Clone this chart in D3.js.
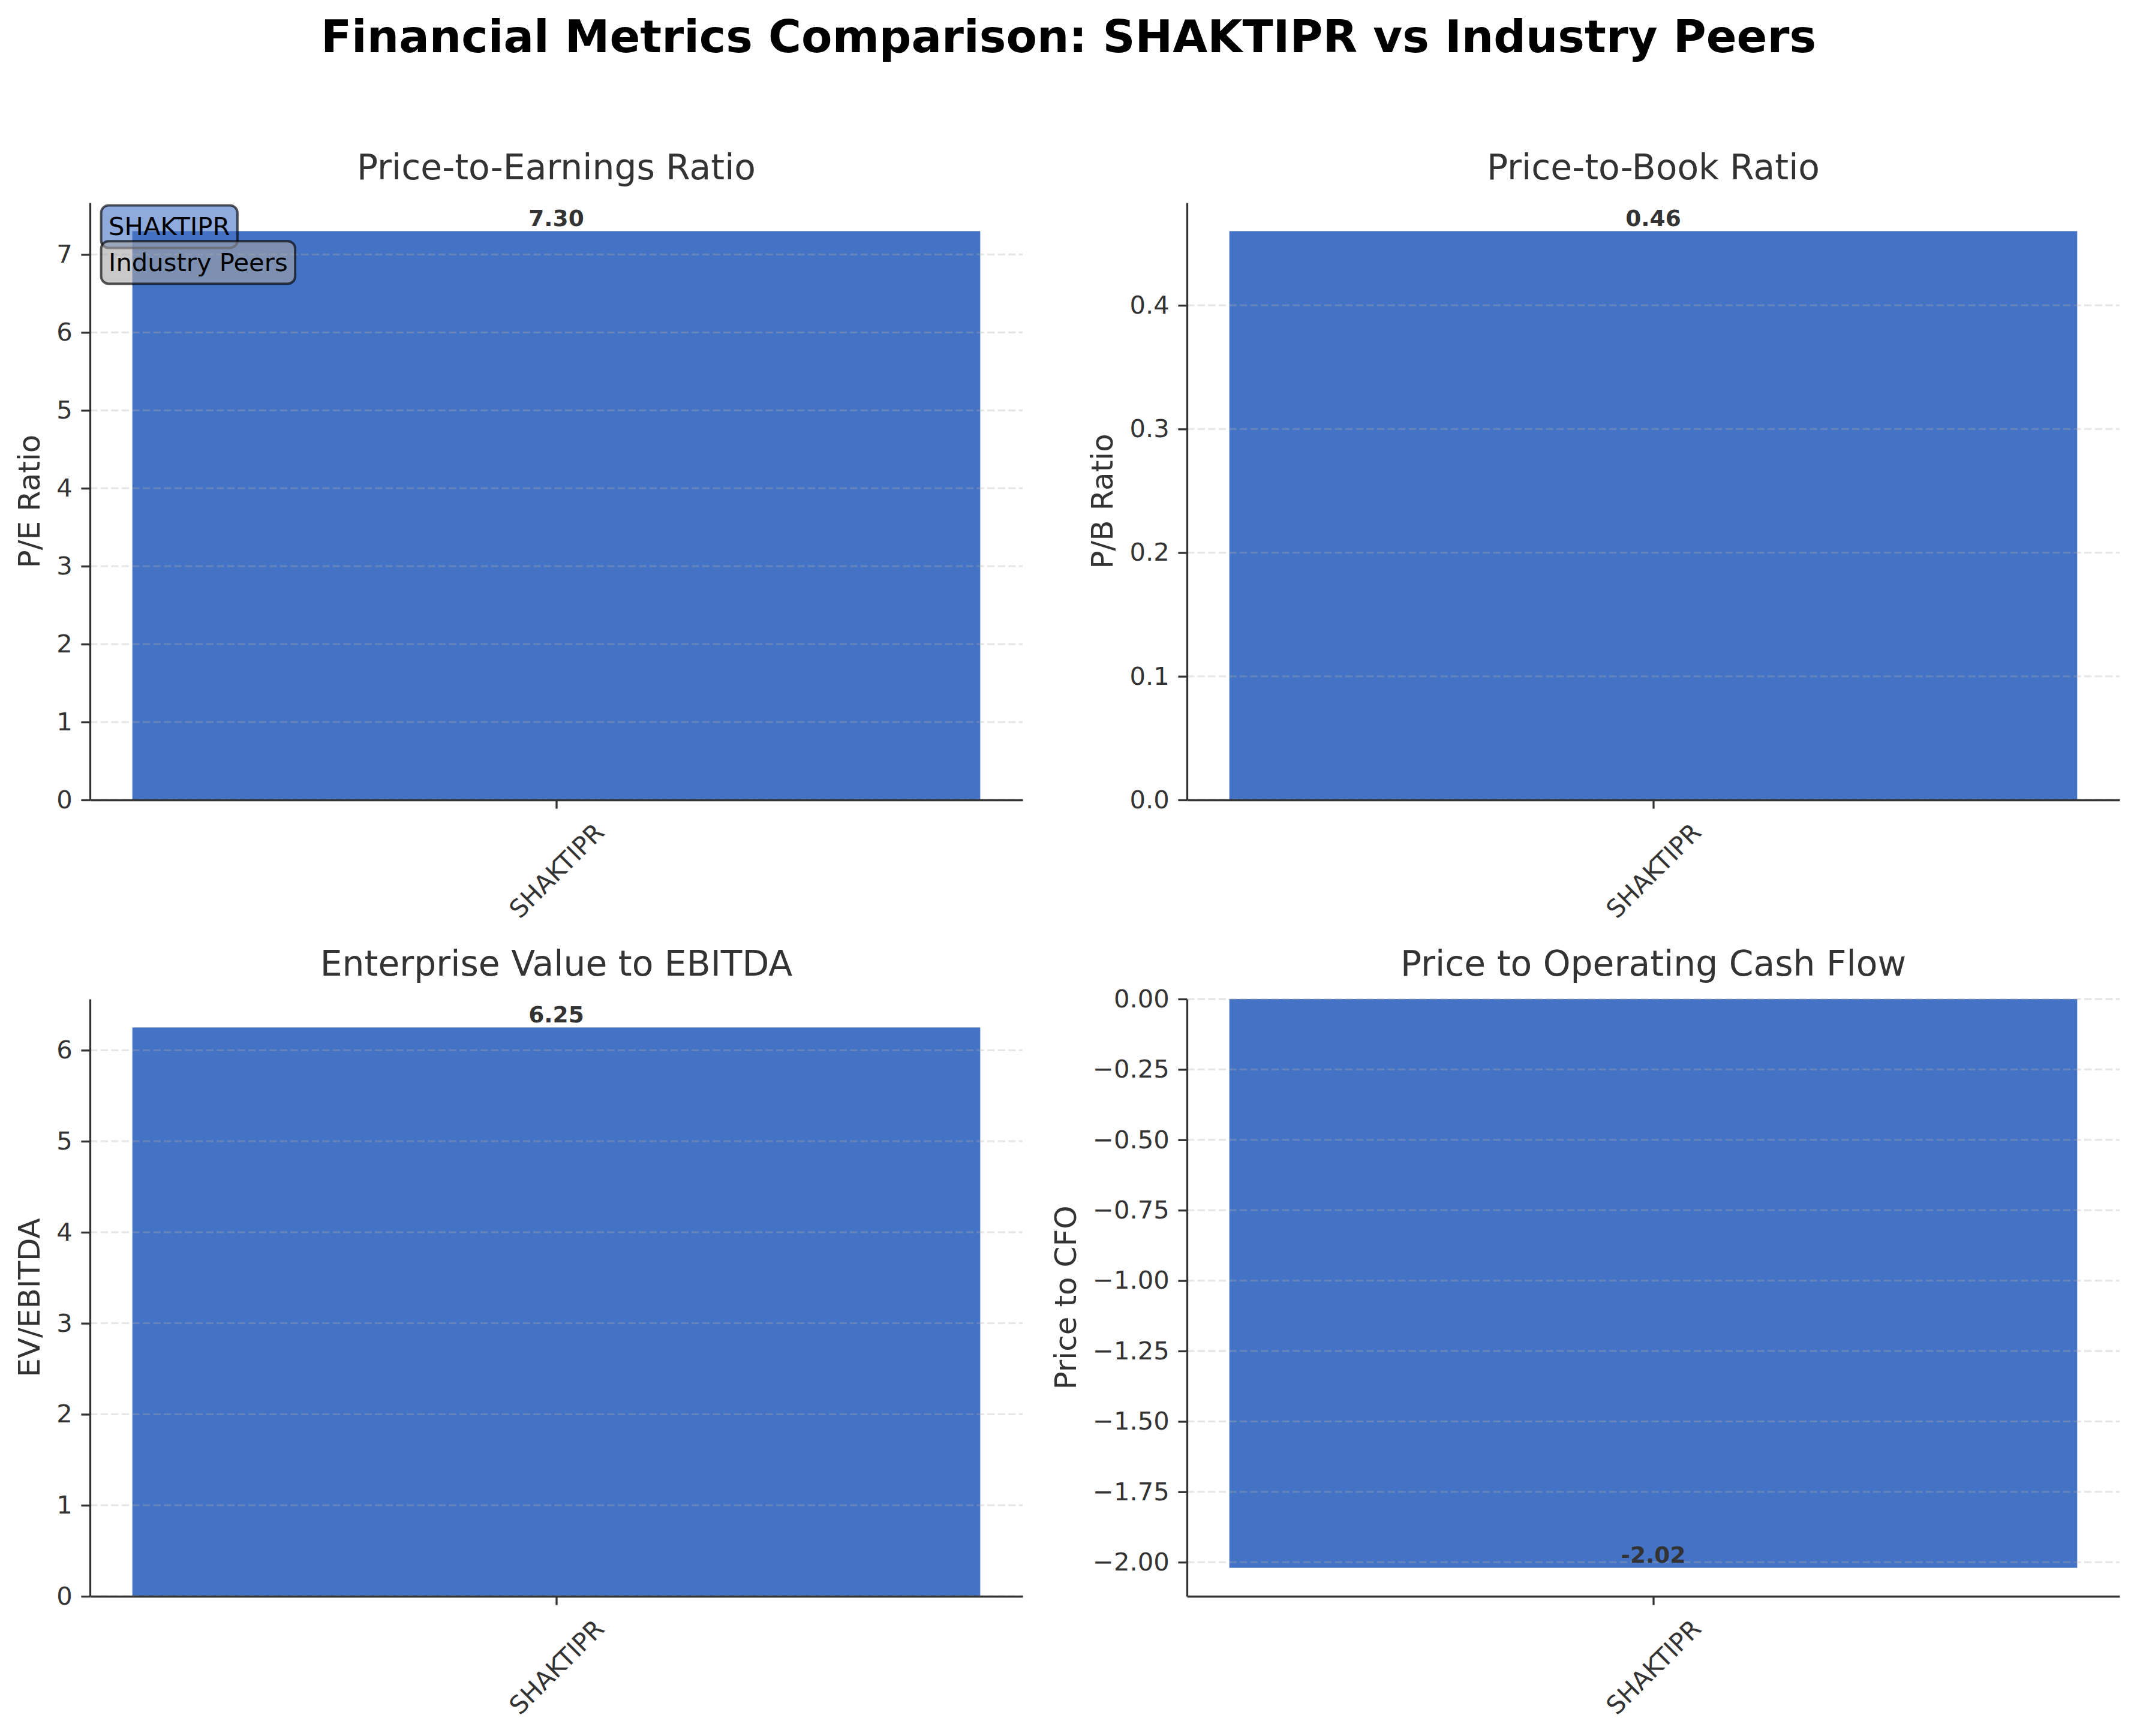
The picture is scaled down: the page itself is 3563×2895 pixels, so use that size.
<!DOCTYPE html>
<html>
<head>
<meta charset="utf-8">
<script src="https://cdn.jsdelivr.net/npm/d3@7"></script>
<style>
body { margin: 0; background: #fff; }
text { font-family: "DejaVu Sans", sans-serif; }
</style>
</head>
<body>
<div id="chart"></div>
<script>
// data
const companies = ["SHAKTIPR"];
const peValues = [7.30];
const pbValues = [0.46];
const evEbitdaValues = [6.25];
const pcfoValues = [-2.02];

const panelTitles = ["Price-to-Earnings Ratio", "Price-to-Book Ratio", "Enterprise Value to EBITDA", "Price to Operating Cash Flow"];
const yLabels = ["P/E Ratio", "P/B Ratio", "EV/EBITDA", "Price to CFO"];
const peTicks = [0, 1, 2, 3, 4, 5, 6, 7];
const pbTicks = [0, 0.1, 0.2, 0.3, 0.4];
const evTicks = [0, 1, 2, 3, 4, 5, 6];
const pcfoTicks = [0, -0.25, -0.5, -0.75, -1, -1.25, -1.5, -1.75, -2];
const tickFormats = ["d", ".1f", "d", ".2f"];
const legendLabels = ["SHAKTIPR", "Industry Peers"];
const legendColors = ["#4472C4", "#A5A5A5"];

const width = 3563, height = 2895;
const barColor = "#4472C4";
const textColor = "#333333";
const lw = 3.3;          // 0.8pt at 300dpi
const tickLen = 14.6, tickPad = 14.6;
const tickFont = 41.7, titleFont = 58.3, labelFont = 50, valueFont = 37.5;

const panels = [
    {left: 150, top: 338, values: peValues, ticks: peTicks},
    {left: 1979, top: 338, values: pbValues, ticks: pbTicks},
    {left: 150, top: 1666, values: evEbitdaValues, ticks: evTicks},
    {left: 1979, top: 1666, values: pcfoValues, ticks: pcfoTicks}
];
const pw = 1555, ph = 996;

const svg = d3.select("#chart")
    .append("svg")
    .attr("width", width)
    .attr("height", height)
    .attr("viewBox", [0, 0, width, height]);

svg.append("text")
    .attr("x", width / 2)
    .attr("y", 87)
    .attr("text-anchor", "middle")
    .attr("font-size", 75)
    .attr("font-weight", "bold")
    .attr("fill", "#000")
    .text("Financial Metrics Comparison: SHAKTIPR vs Industry Peers");

function drawPanel(k) {
    let p = panels[k];
    let values = p.values;
    const g = svg.append("g").attr("transform", `translate(${p.left},${p.top})`);

    let n = values.length;
    let x = d3.scaleLinear()
        .domain([-0.4 - 0.04 * n, n - 1 + 0.4 + 0.04 * n])
        .range([0, pw]);
    let lo = Math.min(0, d3.min(values)), hi = Math.max(0, d3.max(values));
    let span = hi - lo;
    let y = d3.scaleLinear()
        .domain([lo < 0 ? lo - 0.05 * span : 0, hi > 0 ? hi + 0.05 * span : 0])
        .range([ph, 0]);

    // bars
    g.selectAll("rect.bar")
        .data(values)
        .join("rect")
        .attr("class", "bar")
        .attr("x", (d, i) => x(i - 0.4))
        .attr("width", (d, i) => x(i + 0.4) - x(i - 0.4))
        .attr("y", d => y(Math.max(0, d)))
        .attr("height", d => Math.abs(y(d) - y(0)))
        .attr("fill", barColor);

    // dashed grid, sits above the bars like in the original
    g.append("g")
        .selectAll("line")
        .data(p.ticks)
        .join("line")
        .attr("x1", 0).attr("x2", pw)
        .attr("y1", d => y(d)).attr("y2", d => y(d))
        .attr("stroke", "#b0b0b0")
        .attr("stroke-opacity", 0.3)
        .attr("stroke-width", lw)
        .attr("stroke-dasharray", "12.3,5.3");

    // y axis
    const ya = g.append("g")
        .call(d3.axisLeft(y).tickValues(p.ticks).tickFormat(d3.format(tickFormats[k]))
            .tickSize(tickLen).tickSizeOuter(0).tickPadding(tickPad));
    ya.select(".domain").attr("stroke", textColor).attr("stroke-width", lw);
    ya.selectAll(".tick line").attr("stroke", textColor).attr("stroke-width", lw);
    ya.selectAll(".tick text")
        .attr("fill", textColor)
        .attr("font-size", tickFont)
        .attr("font-family", "DejaVu Sans");

    // x axis
    const xa = g.append("g")
        .attr("transform", `translate(0,${ph})`)
        .call(d3.axisBottom(x).tickValues(d3.range(n)).tickFormat(i => companies[i])
            .tickSize(tickLen).tickSizeOuter(0).tickPadding(tickPad));
    xa.select(".domain").attr("stroke", textColor).attr("stroke-width", lw);
    xa.selectAll(".tick line").attr("stroke", textColor).attr("stroke-width", lw);
    xa.selectAll(".tick text")
        .attr("fill", textColor)
        .attr("font-size", tickFont)
        .attr("font-family", "DejaVu Sans")
        .each(function() {
            let t = d3.select(this);
            let len = this.getComputedTextLength();
            let cy = tickLen + tickPad + (len + 1.164 * tickFont) * Math.SQRT1_2 / 2;
            t.attr("x", 0).attr("y", cy).attr("dy", "0.35em")
                .attr("text-anchor", "middle")
                .attr("transform", `rotate(-45,0,${cy})`);
        });

    // value labels
    g.selectAll("text.val")
        .data(values)
        .join("text")
        .attr("class", "val")
        .attr("x", (d, i) => x(i))
        .attr("y", d => y(d) - 0.236 * valueFont)
        .attr("text-anchor", "middle")
        .attr("font-size", valueFont)
        .attr("font-weight", "bold")
        .attr("fill", textColor)
        .text(d => d.toFixed(2));

    // panel title
    g.append("text")
        .attr("x", pw / 2)
        .attr("y", -39)
        .attr("text-anchor", "middle")
        .attr("font-size", titleFont)
        .attr("fill", textColor)
        .text(panelTitles[k]);

    // y label placed left of the tick labels (bbox x already holds the tick offset)
    let minX = d3.min(ya.selectAll(".tick text").nodes(), nd => nd.getBBox().x);
    let lx = minX - 16.7 - 0.236 * labelFont;
    g.append("text")
        .attr("transform", `translate(${lx},${ph / 2}) rotate(-90)`)
        .attr("text-anchor", "middle")
        .attr("font-size", labelFont)
        .attr("fill", textColor)
        .text(yLabels[k]);

    return g;
}

let firstPanel = null;
for (let k = 0; k < panels.length; k++) {
    let g = drawPanel(k);
    if (k === 0) firstPanel = g;
}

// the text-box "legend" in the first panel
const legendFracs = [0.98, 0.92];
legendLabels.forEach((lab, i) => {
    let lg = firstPanel.append("g");
    let t = lg.append("text")
        .attr("x", 0.02 * pw)
        .attr("y", ph * (1 - legendFracs[i]) + 34)
        .attr("font-size", tickFont)
        .attr("fill", "#000")
        .text(lab);
    let b = t.node().getBBox();
    let pad = 12.5;
    lg.insert("rect", "text")
        .attr("x", b.x - pad)
        .attr("y", b.y - pad + 2)
        .attr("width", b.width + 2 * pad)
        .attr("height", b.height + 2 * pad - 3)
        .attr("rx", pad)
        .attr("fill", legendColors[i])
        .attr("fill-opacity", 0.6)
        .attr("stroke", "#000")
        .attr("stroke-opacity", 0.65)
        .attr("stroke-width", 4);
});
</script>
</body>
</html>
